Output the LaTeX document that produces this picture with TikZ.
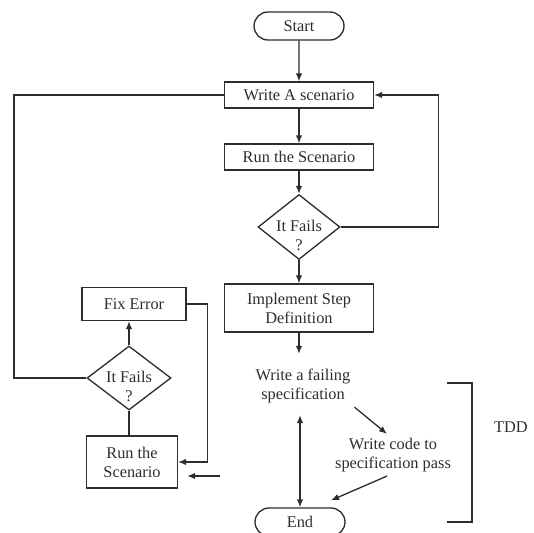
\documentclass[tikz,border=0pt]{standalone}
\usepackage{fontspec}
\setmainfont{Liberation Serif}
\usepackage{tikz}
\usetikzlibrary{arrows.meta,calc,positioning,shapes.misc,shapes.geometric}
\definecolor{ink}{RGB}{45,45,45}

\begin{document}
\begin{tikzpicture}[x=0.02cm, y=-0.02cm,
  >={Latex[length=1.6mm,width=1.3mm]}, line width=0.75pt, draw=ink,
  font=\fontsize{9.3}{10.8}\selectfont, text=ink,
  term/.style={draw, rounded rectangle, minimum width=1.8cm, minimum height=0.56cm, inner sep=0pt},
  stepbox/.style={draw, rectangle, align=center, inner sep=0pt},
  decision/.style={draw, diamond, minimum width=1.64cm, minimum height=1.3cm, inner sep=0pt},
  plain/.style={align=center, inner sep=2pt}]

\useasboundingbox (0,0) rectangle (534,533);

% main column
\node[term] (Start) at (299,26) {Start};
\node[stepbox, minimum width=2.98cm, minimum height=0.52cm] (Write) at (299,95) {Write A scenario};
\node[stepbox, minimum width=2.98cm, minimum height=0.52cm] (Run) at (299,157) {Run the Scenario};
\node[decision, label={[align=center, yshift=-5pt]center:It Fails\\?}] (Fails) at (299,227) {};
\node[stepbox, minimum width=2.98cm, minimum height=0.96cm] (Impl) at (299,308) {Implement Step\\Definition};

\draw[->] (Start) -- (Write);
\draw[->] (Write) -- (Run);
\draw[->] (Run) -- (Fails);
\draw[->] (Fails) -- (Impl);
\draw[->] (Fails.east) -- ++(98,0) |- (Write.east);

% TDD cycle
\node[plain] (Spec) at (303,386) {Write a failing\\specification};
\node[plain] (Code) at (393,455) {Write code to\\specification pass};
\node[term] (End) at (300,522) {End};

\draw[->, shorten >=0.22cm] (Impl.south) -- (Impl.south |- Spec.north);
\draw[->] (Spec.south east) -- ([xshift=-0.12cm]Code.north);
\draw[->] ([xshift=-0.12cm]Code.south) -- ([yshift=0.14cm]End.north east);
\draw[<->, shorten >=0.16cm] (End.north) -- (End.north |- Spec.south);

% bracket
\draw (447,383) -- (472,383) -- (472,522) -- (447,522);
\node (TDD) at (511,427) {TDD};

% left loop
\node[stepbox, minimum width=2.08cm, minimum height=0.66cm] (Fix) at (134,304) {Fix Error};
\node[decision, minimum width=1.68cm, minimum height=1.28cm,
  label={[align=center, yshift=-5pt]center:It Fails\\?}] (Fails2) at (129,378) {};
\node[stepbox, minimum width=1.82cm, minimum height=1.04cm] (Rerun) at (132,462) {Run the\\Scenario};
\coordinate (Edge) at (14,0);
\coordinate (Feed) at (220,476);

\draw (Write.west) -| (Edge |- Fails2.west) -- (Fails2.west);
\draw[->] (Fails2.north) -- (Fails2.north |- Fix.south);
\draw (Fails2.south) -- (Fails2.south |- Rerun.north);
\draw[->] (Fix.east) -- ++(21,0) |- (Rerun.east);
\draw[->, shorten >=0.18cm] (Feed) -- (Feed -| Rerun.east);
\end{tikzpicture}
\end{document}
